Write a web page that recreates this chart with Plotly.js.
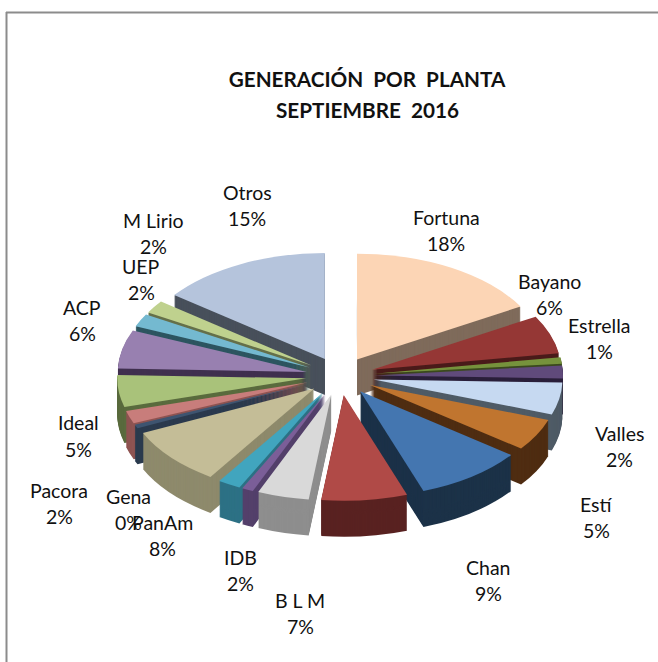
<!DOCTYPE html>
<html><head><meta charset="utf-8">
<script src="https://cdn.plot.ly/plotly-3.0.1.min.js"></script>
<style>html,body{margin:0;padding:0;background:#fff}#g{width:658px;height:662px}</style>
</head><body><div id="g"></div>
<script>
// --- chart data, clockwise from 12 o'clock ---
const plants = ["Fortuna","Bayano","Estrella","Valles","Estí (sin rótulo)","Estí","Chan","B L M","Gris","Violeta","IDB","PanAm","Gena","Pacora","Ideal","ACP","UEP","M Lirio","Otros"];
const shares = [17,6,1,2,5,5,9.5,7.5,4.5,1,2,9,0.6,2,5,6,2,2,15];
const faceColors = ["#FCD5B5","#953735","#76923C","#604A7B","#C6D9F1","#C0752F","#4476B0","#B04A47","#D9D9D9","#7B5E98","#41A5BE","#C4BD97","#3E5470","#C87D7B","#A9C27A","#9880B0","#74B9D0","#BFD18E","#B5C4DC"];
const wallColors = ["#7F6B5B","#4A1B1A","#3B491E","#2A1F3A","#4F5B66","#4F2D12","#1C3248","#592221","#8E8E8E","#54406B","#2D7185","#8E8A6C","#2B3A4E","#8F5452","#5A6B3E","#40304F","#2D5560","#65704A","#48505B"];
// --- data labels as printed on the chart ---
const labelNames = ["Fortuna","Bayano","Estrella","Valles","Estí","Chan","B L M","IDB","PanAm","Gena","Pacora","Ideal","ACP","UEP","M Lirio","Otros"];
const labelPcts  = ["18%","6%","1%","2%","5%","9%","7%","2%","8%","0%","2%","5%","6%","2%","2%","15%"];
// --- layout constants (pixel anchors of the labels) ---
const labelX = [446,549,599,619,596,488,300,240,162,128,59,78,82,141,153,247];
const labelY = [217,281,325,433,504,567,600,557,522,496,490,423,307,266,220,192];
const W=658,H=662, CX=340, CY=376, SQ=0.56, OUT=223, DEPTH=36, PULL=0.18;

const unsqY = H/2;
const ty = CY - SQ*unsqY;
const traces=[];
for(let k=DEPTH;k>=0;k--){
  const yc = unsqY + k/SQ;
  traces.push({
    type:"pie", labels:plants, values:shares, sort:false, direction:"clockwise", rotation:0,
    pull:shares.map(()=>PULL), textinfo:"none", hoverinfo:"skip", showlegend:false,
    marker:{colors:k===0?faceColors:wallColors, line:{width:0}},
    domain:{x:[(CX-OUT)/W,(CX+OUT)/W], y:[1-(yc+OUT)/H,1-(yc-OUT)/H]}
  });
}
const font={family:"Lato, 'Open Sans', sans-serif",size:19.5,color:"#111"};
const ann=[];
labelNames.forEach((n,i)=>{
  ann.push({text:n,x:labelX[i]/W,y:1-labelY[i]/H,xref:"paper",yref:"paper",showarrow:false,xanchor:"center",yanchor:"middle",font});
  ann.push({text:labelPcts[i],x:labelX[i]/W,y:1-(labelY[i]+26)/H,xref:"paper",yref:"paper",showarrow:false,xanchor:"center",yanchor:"middle",font});
});
const titleFont={family:"Lato, 'Open Sans', sans-serif",size:20.7,color:"#111",weight:700};
ann.push({text:"<b>SEPTIEMBRE\u00a0\u00a02016</b>",x:367/W,y:1-110/H,xref:"paper",yref:"paper",showarrow:false,xanchor:"center",yanchor:"middle",font:titleFont});
const layout={
  width:W,height:H,margin:{l:0,r:0,t:0,b:0},paper_bgcolor:"#fff",plot_bgcolor:"#fff",showlegend:false,
  title:{text:"<b>GENERACIÓN\u00a0\u00a0POR\u00a0\u00a0PLANTA</b>",x:367/W,xanchor:"center",y:1-80/H,yanchor:"middle",font:titleFont},
  annotations:ann,
  shapes:[
    {type:"line",xref:"paper",yref:"paper",x0:6.5/W,x1:6.5/W,y0:0,y1:1-12/H,line:{color:"#8c8c8c",width:2}},
    {type:"line",xref:"paper",yref:"paper",x0:6/W,x1:1,y0:1-12.5/H,y1:1-12.5/H,line:{color:"#8c8c8c",width:2}}
  ]
};
Plotly.newPlot("g",traces,layout,{displayModeBar:false,staticPlot:true}).then(gd=>{
  // Tilt the pie stack into the reference's 3-D view
  document.querySelectorAll("#g .pielayer").forEach(el=>el.setAttribute("transform",`translate(0,${ty}) scale(1,${SQ})`));
});
</script></body></html>
